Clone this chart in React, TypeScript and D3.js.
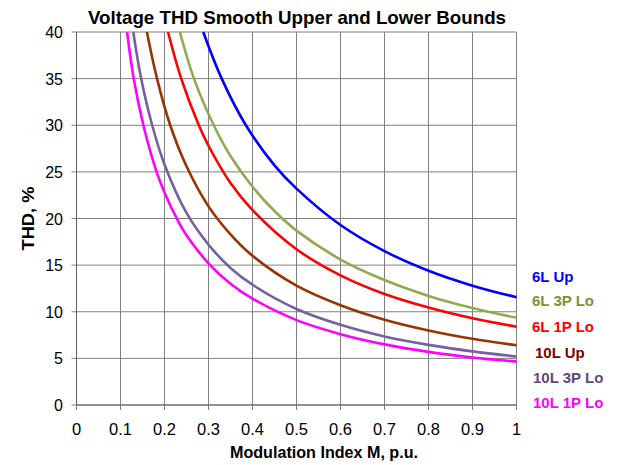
import React from 'react';
import * as d3 from 'd3';

// values: [M, THD %]
const up6L = [[0.288, 40], [0.33, 35], [0.385, 30], [0.45, 25.7], [0.5, 23.2], [0.6, 19.3], [0.7, 16.5], [0.8, 14.4], [0.9, 12.8], [1.0, 11.55]];
const lo6L3P = [[0.235, 40], [0.267, 35], [0.312, 30], [0.35, 26.7], [0.4, 23.4], [0.45, 20.8], [0.5, 18.7], [0.6, 15.6], [0.7, 13.4], [0.8, 11.7], [0.9, 10.4], [1.0, 9.35]];
const lo6L1P = [[0.208, 40], [0.238, 35], [0.278, 30], [0.3, 27.8], [0.35, 23.8], [0.4, 20.9], [0.5, 16.7], [0.6, 13.9], [0.7, 11.9], [0.8, 10.45], [0.9, 9.3], [1.0, 8.4]];
const up10L = [[0.16, 40], [0.183, 35], [0.213, 30], [0.25, 25.6], [0.3, 21.3], [0.35, 18.3], [0.4, 16], [0.5, 12.8], [0.6, 10.7], [0.7, 9.15], [0.8, 8.0], [0.9, 7.1], [1.0, 6.4]];
const lo10L3P = [[0.129, 40], [0.147, 35], [0.172, 30], [0.2, 25.8], [0.25, 20.6], [0.3, 17.2], [0.35, 14.7], [0.4, 12.9], [0.5, 10.3], [0.6, 8.6], [0.7, 7.35], [0.8, 6.45], [0.9, 5.75], [1.0, 5.2]];
const lo10L1P = [[0.115, 40], [0.13, 35], [0.152, 30], [0.182, 25], [0.2, 22.8], [0.228, 20], [0.25, 18.2], [0.3, 15.2], [0.35, 13], [0.4, 11.4], [0.5, 9.1], [0.6, 7.6], [0.7, 6.5], [0.8, 5.7], [0.9, 5.1], [1.0, 4.65]];

const seriesNames = ['6L Up', '6L 3P Lo', '6L 1P Lo', '10L Up', '10L 3P Lo', '10L 1P Lo'];
const seriesData = [up6L, lo6L3P, lo6L1P, up10L, lo10L3P, lo10L1P];
const lineColors = ['#0000ff', '#8faa52', '#ff0000', '#993300', '#7660a0', '#ff00ff'];
const textColors = ['#0000ff', '#77933c', '#ff0000', '#7f0000', '#604a7b', '#ff00ff'];

const xTicks = [0, 0.1, 0.2, 0.3, 0.4, 0.5, 0.6, 0.7, 0.8, 0.9, 1];
const yTicks = [0, 5, 10, 15, 20, 25, 30, 35, 40];

const font = "'Liberation Sans', Arial, sans-serif";

export default function App() {
  const x = d3.scaleLinear().domain([0, 1]).range([76.5, 516.5]);
  const y = d3.scaleLinear().domain([0, 40]).range([405, 32]);

  const line = d3.line<number[]>()
    .x(d => x(d[0]))
    .y(d => y(d[1]))
    .curve(d3.curveCatmullRom.alpha(0.5));

  const legendY = [282, 306, 332, 358, 383, 408];
  const legendX = [532, 532, 532, 535, 533, 533];

  return (
    <svg width={620} height={465} style={{ position: 'absolute', left: 0, top: 0, background: '#fff' }} fontFamily={font}>
      <text x={297} y={24} textAnchor="middle" fontSize={19} fontWeight="bold" fill="#000"
        textLength={418} lengthAdjust="spacingAndGlyphs">
        Voltage THD Smooth Upper and Lower Bounds
      </text>

      {/* grid */}
      {xTicks.map(t => (
        <line key={'gx' + t} x1={x(t)} x2={x(t)} y1={y(40)} y2={y(0) + 5} stroke="#808080" strokeWidth={1} />
      ))}
      {yTicks.map(t => (
        <line key={'gy' + t} x1={x(0) - 5} x2={x(1)} y1={y(t)} y2={y(t)} stroke="#808080" strokeWidth={1} />
      ))}
      <line x1={x(0)} x2={x(0)} y1={y(40)} y2={y(0)} stroke="#606060" strokeWidth={1} />
      <line x1={x(0)} x2={x(1)} y1={y(0)} y2={y(0)} stroke="#606060" strokeWidth={1} />

      {/* tick labels */}
      {yTicks.map(t => (
        <text key={'ty' + t} x={63} y={y(t) + 6} textAnchor="end" fontSize={16} fill="#000">{t}</text>
      ))}
      {xTicks.map(t => (
        <text key={'tx' + t} x={x(t)} y={435} textAnchor="middle" fontSize={16.5} fill="#000">{t}</text>
      ))}

      <text x={324} y={458} textAnchor="middle" fontSize={16.5} fontWeight="bold" fill="#000"
        textLength={188} lengthAdjust="spacingAndGlyphs">Modulation Index M, p.u.</text>
      <text transform={`translate(34, ${y(20)}) rotate(-90)`} textAnchor="middle" fontSize={16} fontWeight="bold" fill="#000"
        textLength={64} lengthAdjust="spacingAndGlyphs">THD, %</text>

      {/* curves */}
      {seriesData.map((d, i) => (
        <path key={seriesNames[i]} d={line(d) || ''} fill="none" stroke={lineColors[i]} strokeWidth={2.6} />
      ))}

      {/* legend */}
      {seriesNames.map((n, i) => (
        <text key={'lg' + n} x={legendX[i]} y={legendY[i]} fontSize={15} fontWeight="bold" fill={textColors[i]}>{n}</text>
      ))}
    </svg>
  );
}
